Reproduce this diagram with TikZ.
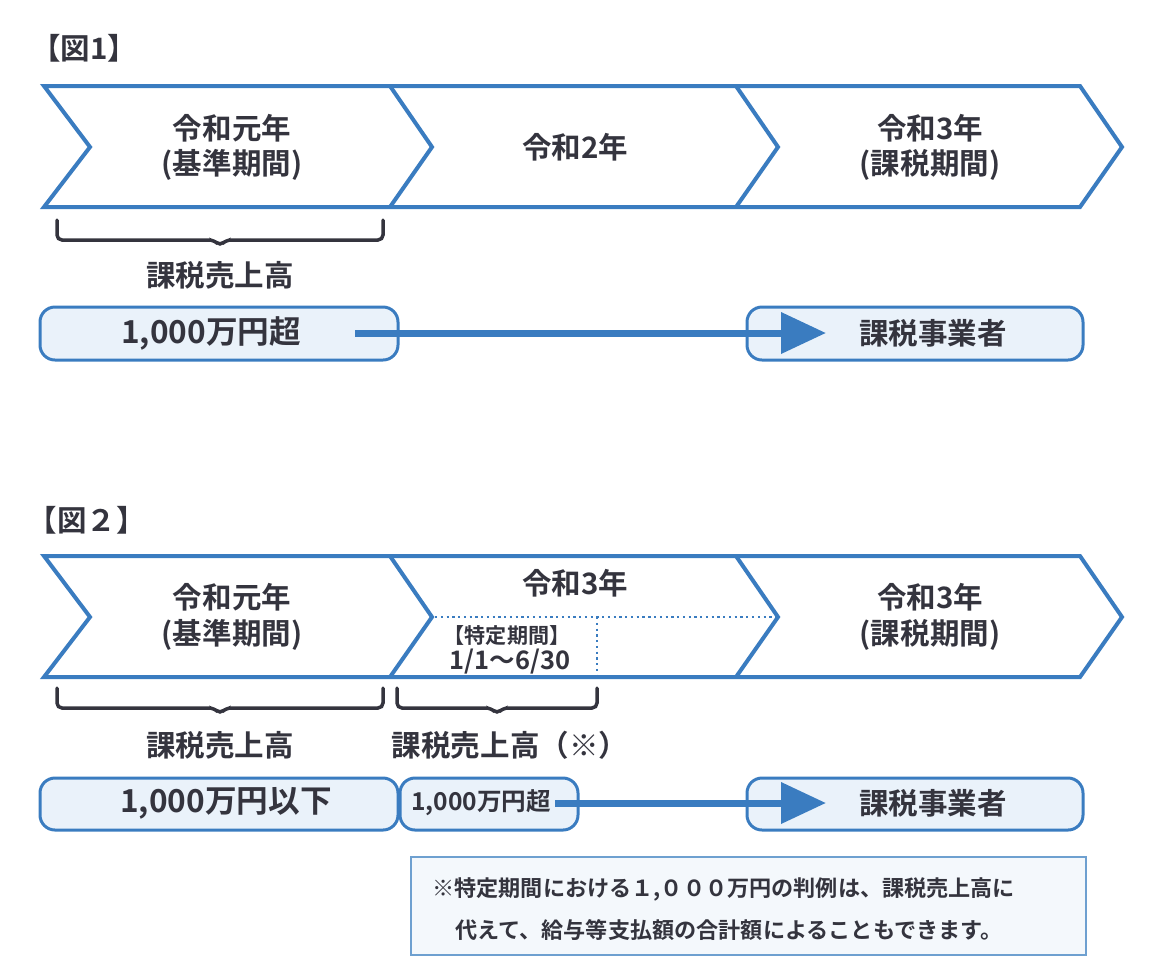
\documentclass[tikz,border=0pt]{standalone}
\usepackage{fontspec}
\setmainfont{Noto Sans CJK JP}[BoldFont={Noto Sans CJK JP Bold}]
\usetikzlibrary{arrows.meta}
\definecolor{chevblue}{RGB}{58,124,192}
\definecolor{txtgray}{RGB}{52,52,62}
\definecolor{boxfill}{RGB}{234,242,250}
\definecolor{notefill}{RGB}{244,248,252}
\definecolor{noteline}{RGB}{110,160,208}
\begin{document}
\begin{tikzpicture}[x=0.02cm, y=-0.02cm,
  chev/.style={draw=chevblue, line width=0.08cm, line join=miter},
  dotline/.style={draw=chevblue, line width=0.045cm, dotted},
  brc/.style={draw=txtgray, line width=0.07cm, rounded corners=0.1cm, line cap=round},
  amount box/.style={draw=chevblue, fill=boxfill, line width=0.06cm, rounded corners=0.3cm},
  bigarrow/.style={draw=chevblue, line width=0.14cm, -{Triangle[length=0.9cm,width=0.8cm]}},
  big/.style={font=\bfseries\fontsize{16.8}{20}\selectfont},
  amount/.style={font=\bfseries\fontsize{18}{20}\selectfont},
  small/.style={font=\bfseries\fontsize{12}{14}\selectfont},
  note/.style={font=\bfseries\fontsize{12.6}{15}\selectfont}]
\useasboundingbox (0,0) rectangle (1152,978);
% figure 1
\begin{scope}[every node/.style={big, text=txtgray, inner sep=0pt}]
\node (f1) at (84,48) {【図1】};
\node (y1a) at (232,128) {令和元年};
\node (y1b) at (232,165) {(基準期間)};
\node (y2) at (575,147) {令和2年};
\node (y3a) at (930,128) {令和3年};
\node (y3b) at (930,165) {(課税期間)};
\node (s1) at (220,275) {課税売上高};
\end{scope}
\draw[chev] (44,86) -- (1080,86) -- (1122,147) -- (1080,207) -- (44,207) -- (90,147) -- cycle;
\draw[chev] (390,86) -- (432,147) -- (390,207);
\draw[chev] (736,86) -- (778,147) -- (736,207);
\draw[brc] (57,220) -- (57,240) -- (214,240) -- (220,246) -- (226,240) -- (383,240) -- (383,220);
\draw[amount box] (40,307) rectangle (398,360);
\draw[amount box] (747,307) rectangle (1083,360);
\node[amount, text=txtgray, inner sep=0pt] (m1) at (211,333) {1,000万円超};
\node[big, text=txtgray, inner sep=0pt] (k1) at (933,333) {課税事業者};
\coordinate (a1s) at (355,333);
\coordinate (a1e) at (826,333);
\draw[bigarrow] (a1s) -- (a1e);
% figure 2
\begin{scope}[every node/.style={big, text=txtgray, inner sep=0pt}]
\node (f2) at (87,520) {【図２】};
\node (z1a) at (232,597) {令和元年};
\node (z1b) at (232,635) {(基準期間)};
\node (z2) at (575,583) {令和3年};
\node (z3a) at (930,597) {令和3年};
\node (z3b) at (930,635) {(課税期間)};
\node (s2) at (220,745) {課税売上高};
\node (s3) at (510,745) {課税売上高（※）};
\end{scope}
\node[small, text=txtgray, inner sep=0pt] (tk1) at (507,636) {【特定期間】};
\node[font=\bfseries\fontsize{14.5}{16}\selectfont, text=txtgray, inner sep=0pt] (tk2) at (510,662) {1/1～6/30};
\draw[dotline] (435,617) -- (777,617);
\draw[dotline] (597,617) -- (597,677);
\draw[chev] (44,556) -- (1080,556) -- (1122,617) -- (1080,677) -- (44,677) -- (90,617) -- cycle;
\draw[chev] (390,556) -- (432,617) -- (390,677);
\draw[chev] (736,556) -- (778,617) -- (736,677);
\draw[brc] (57,688) -- (57,708) -- (214,708) -- (220,714) -- (226,708) -- (383,708) -- (383,688);
\draw[brc] (397,688) -- (397,708) -- (491,708) -- (497,714) -- (503,708) -- (597,708) -- (597,688);
\draw[amount box] (40,778) rectangle (398,830);
\draw[amount box] (400,778) rectangle (578,830);
\draw[amount box] (747,778) rectangle (1083,830);
\node[amount, text=txtgray, inner sep=0pt] (m2) at (226,803) {1,000万円以下};
\node[big, text=txtgray, inner sep=0pt] (k2) at (933,803) {課税事業者};
\node[font=\bfseries\fontsize{14}{16}\selectfont, text=txtgray, inner sep=0pt] (m3) at (481,803) {1,000万円超};
\coordinate (a2s) at (555,803);
\coordinate (a2e) at (826,803);
\draw[bigarrow] (a2s) -- (a2e);
% note
\draw[draw=noteline, fill=notefill, line width=0.045cm] (411,857) rectangle (1086,955);
\node[note, text=txtgray, inner sep=0pt, anchor=west] (n1) at (432,889) {※特定期間における１,０００万円の判例は、課税売上高に};
\node[note, text=txtgray, inner sep=0pt, anchor=west] (n2) at (455,930) {代えて、給与等支払額の合計額によることもできます。};
\end{tikzpicture}
\end{document}
